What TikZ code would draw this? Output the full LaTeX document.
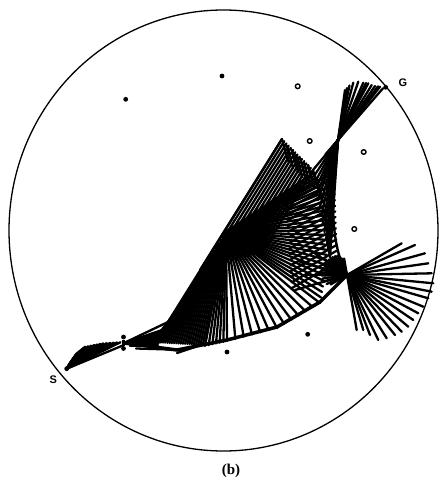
\documentclass[tikz,border=0pt]{standalone}
\usepackage{fontspec}
\setmainfont{Liberation Serif}
\setsansfont{Liberation Sans}
\usetikzlibrary{calc}

\begin{document}
\begin{tikzpicture}[x=1pt, y=-1pt,
  rod/.style={line width=2.3pt, line cap=round},
  obs/.style={circle, fill=black, inner sep=0pt, minimum size=4.8pt},
  ring/.style={circle, draw=black, fill=white, line width=1.4pt, inner sep=0pt, minimum size=4.6pt},
  tag/.style={font=\sffamily\bfseries\fontsize{11}{13}\selectfont, inner sep=0pt}
]
  \useasboundingbox (0,0) rectangle (440,489);
  \draw[line width=1.3pt] (223.5,230.5) ellipse [x radius=214.5, y radius=220.5];

  \coordinate (S) at (66.7,368.7);
  \coordinate (G) at (385.7,87.3);
  \coordinate (P1) at (124,343);
  \coordinate (knee) at (168,322);
  \coordinate (C) at (226,232);
  \coordinate (apex) at (282,139);
  \coordinate (Gp) at (338,140);
  \coordinate (Rp) at (347,275);

  % start fan
  \foreach \ax/\ay/\bx/\by in {70/363/76.7/353.3, 76.7/353.3/85/346.7, 85/346.7/103.3/343.3, 103.3/343.3/124/342}{
    \foreach \i in {0,...,5}{
      \pgfmathsetmacro\t{\i/6}
      \draw[rod] (S) -- ($(\ax,\ay)!\t!(\bx,\by)$);
    }
  }
  \draw[rod] (S) -- (124,345);

  % strip to the wing
  \draw[rod] (P1) -- (knee) -- (apex);
  \foreach \i in {0,...,8}{
    \pgfmathsetmacro\t{\i/8}
    \draw[rod] (P1) -- ($(165,329)!\t!(158,345)$);
  }
  \draw[rod] (130,346) -- (158,346);
  \draw[rod] (136,348.5) -- (170,349.5);
  \draw[rod] (177,353) -- (195,347);

  % left part of the wing
  \foreach \i in {0,...,24}{
    \pgfmathsetmacro\t{\i/24}
    \draw[rod] ($(152,342)!\t!(205,345)$) -- ($(knee)!\t!(C)$);
  }

  % upper part of the wing
  \foreach \i in {0,...,14}{
    \pgfmathsetmacro\t{\i/14}
    \draw[rod] ($(200,270)!\t!(262,252)$) -- ($(282,139)!\t!(313,170)$);
  }
  \foreach \ax/\ay in {282/139, 287/146, 292/150, 296/155, 300/158, 304/163, 308/165, 313/170}
    \draw[rod] (\ax,\ay) -- ++(6,22);

  % middle fan
  \foreach \ax/\ay/\bx/\by in {205/346/227/341, 227/341/277/328, 277/328/320/303, 320/303/326/270, 326/270/328/240, 328/240/326/210, 326/210/320/185, 320/185/313/170}{
    \foreach \i in {0,...,5}{
      \pgfmathsetmacro\t{\i/6}
      \draw[rod] (C) -- ($(\ax,\ay)!\t!(\bx,\by)$);
    }
  }

  % right side of the wing
  \foreach \i in {0,...,16}{
    \pgfmathsetmacro\t{\i/16}
    \draw[rod] ($(334,172)!\t!(337,262)$) -- ($(286,198)!\t!(292,288)$);
  }

  % towards the goal
  \foreach \ax/\ay/\bx/\by in {313/170/318/200, 318/200/326/240, 326/240/331/262}{
    \foreach \i in {0,...,4}{
      \pgfmathsetmacro\t{\i/5}
      \draw[rod] (Gp) -- ($(\ax,\ay)!\t!(\bx,\by)$);
    }
  }
  \foreach \x/\y in {345/90, 347/88, 349.5/85.5, 353.3/82.7, 358.3/81.7, 363.3/82.7, 366/83, 368.3/83.3, 371.7/85, 375/86, 378/86.3, 380/86.7, 383/88.3}
    \draw[rod] ($(Gp)!-0.28!(\x,\y)$) -- (\x,\y);
  \draw[rod, line width=2.4pt] (Gp) .. controls (332,185) and (328,240) .. (Rp);

  % lower edge
  \draw[rod, line width=3.5pt] (P1) -- (177,350) -- (227,340) -- (277,327) -- (320,302) -- (Rp);
  \foreach \p in {(300,262),(305,275),(295,290),(310,250)}
    \draw[rod] (Rp) -- \p;

  % right fan
  \foreach \x/\y in {401.7/243.3, 415/245, 425/253.3, 428.3/263.3, 431.7/273.3, 433.3/283.3, 431.7/291.7, 428.3/298.3, 423.3/306.7, 418.3/313.3, 413.3/320, 408.3/326.7, 401.7/331.7, 395/335, 386.7/338.3, 378.3/340, 370/335, 363.3/330, 356.7/330}
    \draw[rod] ($(Rp)!-0.3!(\x,\y)$) -- (\x,\y);

  % obstacles
  \foreach \p [count=\i] in {(125.7,99.3),(222,76),(307.7,334.3),(227,352),(123.5,337),(123.5,348.5)}
    \node[obs] (o\i) at \p {};
  \draw[line width=2.6pt] (o5) -- (o6);
  \foreach \p [count=\i] in {(297.7,86.3),(309.7,141),(363.7,152),(354.3,229)}
    \node[ring] (r\i) at \p {};
  \node[obs] (s) at (S) {};
  \node[obs] (g) at (G) {};

  \node[tag] (lS) at (53.3,380) {S};
  \node[tag] (lG) at (403,83) {G};
  \node[font=\bfseries\fontsize{15}{17}\selectfont, inner sep=0pt] (cap) at (231,471) {(b)};
\end{tikzpicture}
\end{document}
